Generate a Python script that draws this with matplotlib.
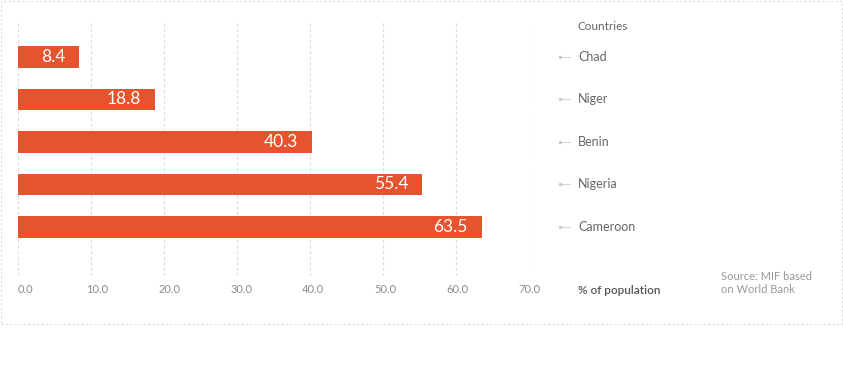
import matplotlib
matplotlib.use("Agg")
import matplotlib.pyplot as plt
import matplotlib.transforms as mtransforms
from matplotlib.patches import Rectangle

plt.rcParams["font.family"] = ["Lato", "DejaVu Sans"]

# data
countries = ["Chad", "Niger", "Benin", "Nigeria", "Cameroon"]
values = [8.4, 18.8, 40.3, 55.4, 63.5]
xticks = [0, 10, 20, 30, 40, 50, 60, 70]

BAR = "#e6532f"
GRID = "#dedede"
TICK = "#8c8c8c"
LABEL = "#666666"

W, H = 843, 382
fig = plt.figure(figsize=(W / 100, H / 100), dpi=100)

# axes placed in pixel terms
left, right, top, bottom = 18, 529, 22, 276
ax = fig.add_axes([left / W, (H - bottom) / H, (right - left) / W, (bottom - top) / H])

ypos = list(range(len(countries)))
ax.barh(ypos, values, height=0.5, color=BAR, zorder=3)
ax.set_xlim(0, 70)
ax.set_ylim(len(countries) - 1 + 1.153, -0.8235)

for spine in ax.spines.values():
    spine.set_visible(False)
ax.set_yticks([])
ax.set_xticks(xticks)
ax.set_xticklabels([])
ax.tick_params(axis="x", length=0)
ax.grid(axis="x", color=GRID, linestyle=(0, (3, 2)), linewidth=0.8, zorder=0)

# tick labels: spread evenly, first one starts at the zero line
xmax = xticks[-1]
for t in xticks:
    shift = 7.5 * (1 - t / xmax)
    tr = mtransforms.offset_copy(ax.get_xaxis_transform(), fig=fig, x=shift, y=0, units="dots")
    ax.text(t, -0.055, f"{t:.1f}", transform=tr, ha="center", va="center",
            color=TICK, fontsize=8)

# value labels inside the bar ends
offset = mtransforms.offset_copy(ax.transData, fig=fig, x=-14, y=0, units="dots")
for y, v in zip(ypos, values):
    ax.text(v, y, f"{v}", transform=offset, ha="right", va="center",
            color="white", fontsize=12.5)

# country labels on the right
lab_tr = mtransforms.blended_transform_factory(fig.transFigure, ax.transData)
for y, c in zip(ypos, countries):
    ax.text(578 / W, y, c, transform=lab_tr, ha="left", va="center",
            color=LABEL, fontsize=9)
    ax.plot([560 / W, 570 / W], [y, y], transform=lab_tr, color="#d8d8d8",
            linewidth=0.8, clip_on=False)
    ax.plot([560 / W], [y], transform=lab_tr, marker="o", markersize=1.5,
            color="#cccccc", clip_on=False)

fig.text(578 / W, (H - 26) / H, "Countries", ha="left", va="center",
         color=LABEL, fontsize=8.5)
fig.text(578 / W, (H - 290) / H, "% of population", ha="left", va="center",
         color="#555555", fontsize=8.5, fontweight="semibold")
fig.text(721 / W, (H - 283) / H, "Source: MIF based\non World Bank", ha="left",
         va="center", color="#999999", fontsize=8, linespacing=1.25)

# dashed outer frame
fig.patches.append(Rectangle((1 / W, (H - 324) / H), 841 / W, 323 / H,
                             transform=fig.transFigure, fill=False,
                             edgecolor="#dddddd", linestyle=(0, (2, 2)),
                             linewidth=0.8))

fig.savefig("out.png", dpi=100)
